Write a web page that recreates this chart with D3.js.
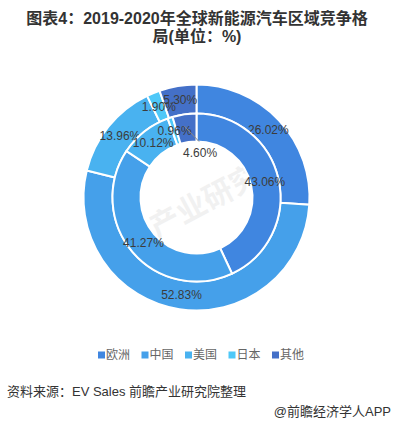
<!DOCTYPE html>
<html lang="zh">
<head>
  <meta charset="UTF-8" />
  <title>2019-2020年全球新能源汽车区域竞争格局</title>
  <script src="https://d3js.org/d3.v7.min.js"></script>
  <style>
    body { margin: 0; background: #fff; }
    svg { display: block; }
    text { font-family: "Liberation Sans", "Noto Sans CJK SC", sans-serif; }
  </style>
</head>
<body>
  <svg id="chart" width="394" height="424"></svg>
  <script>
    // data
    const regions = ['欧洲', '中国', '美国', '日本', '其他'];
    const share2019 = [26.02, 52.83, 13.96, 1.90, 5.30];   // outer ring
    const share2020 = [43.06, 41.27, 10.12, 0.96, 4.60];   // inner ring
    const colors = ['#4086e0', '#45a0ea', '#49b2f0', '#4ec8f8', '#4470c8'];

    const svg = d3.select('#chart');
    const cx = 196.5, cy = 197.5;

    // title
    const title = svg.append('text')
      .attr('text-anchor', 'middle')
      .attr('font-size', '16px')
      .attr('font-weight', 'bold')
      .attr('fill', '#333');
    title.append('tspan').attr('x', 197).attr('y', 24).text('图表4：2019-2020年全球新能源汽车区域竞争格');
    title.append('tspan').attr('x', 197).attr('y', 42).text('局(单位：%)');

    // faint watermark
    svg.append('text')
      .attr('transform', `translate(${cx},${cy + 20}) rotate(-28)`)
      .attr('text-anchor', 'middle')
      .attr('font-size', '30px')
      .attr('font-weight', 'bold')
      .attr('fill', '#000')
      .attr('opacity', 0.05)
      .text('前瞻产业研究院');

    const pie = d3.pie().sort(null).value(d => d);
    const color = d3.scaleOrdinal().domain(regions).range(colors);

    const rings = [
      { values: share2019, inner: 84, outer: 113 },
      { values: share2020, inner: 56, outer: 84 }
    ];

    const g = svg.append('g').attr('transform', `translate(${cx},${cy})`);

    rings.forEach((ring, ri) => {
      const arc = d3.arc().innerRadius(ring.inner).outerRadius(ring.outer);
      const arcs = pie(ring.values);

      g.append('g')
        .selectAll('path')
        .data(arcs)
        .join('path')
        .attr('d', arc)
        .attr('fill', (d, i) => color(regions[i]))
        .attr('stroke', '#fff')
        .attr('stroke-width', 2);

      const labels = g.append('g')
        .attr('font-size', '12px')
        .attr('fill', '#3c3c3c')
        .attr('text-anchor', 'middle')
        .attr('dominant-baseline', 'central');

      arcs.forEach((d, i) => {
        const mid = (d.startAngle + d.endAngle) / 2;
        const rMid = (ring.inner + ring.outer) / 2;
        let [x, y] = [Math.sin(mid) * rMid, -Math.cos(mid) * rMid];
        // the small inner "其他" label is pushed into the hole with a leader line
        if (ri === 1 && i === regions.length - 1) {
          const a2 = mid + 0.19;
          const ex = Math.sin(a2) * 56, ey = -Math.cos(a2) * 56;
          g.append('line')
            .attr('x1', x - 2).attr('y1', y - 2)
            .attr('x2', ex).attr('y2', ey)
            .attr('stroke', '#888')
            .attr('stroke-width', 1);
          x = ex + 1;
          y = ey + 11;
        }
        labels.append('text')
          .attr('x', x)
          .attr('y', y)
          .text(d.data.toFixed(2) + '%');
      });
    });

    // legend
    const legend = svg.append('g')
      .selectAll('g')
      .data(regions)
      .join('g')
      .attr('transform', (d, i) => `translate(${98 + i * 43.5},355)`);
    legend.append('rect')
      .attr('x', 0).attr('y', -3.5)
      .attr('width', 7).attr('height', 7)
      .attr('fill', d => color(d));
    legend.append('text')
      .attr('x', 8)
      .attr('y', 0)
      .attr('dominant-baseline', 'central')
      .attr('font-size', '12px')
      .attr('fill', '#666')
      .text(d => d);

    // source notes
    svg.append('text')
      .attr('x', 7).attr('y', 396)
      .attr('font-size', '13px')
      .attr('fill', '#333')
      .text('资料来源：EV Sales 前瞻产业研究院整理');
    svg.append('text')
      .attr('x', 391).attr('y', 416)
      .attr('text-anchor', 'end')
      .attr('font-size', '13px')
      .attr('fill', '#333')
      .text('@前瞻经济学人APP');
  </script>
</body>
</html>
